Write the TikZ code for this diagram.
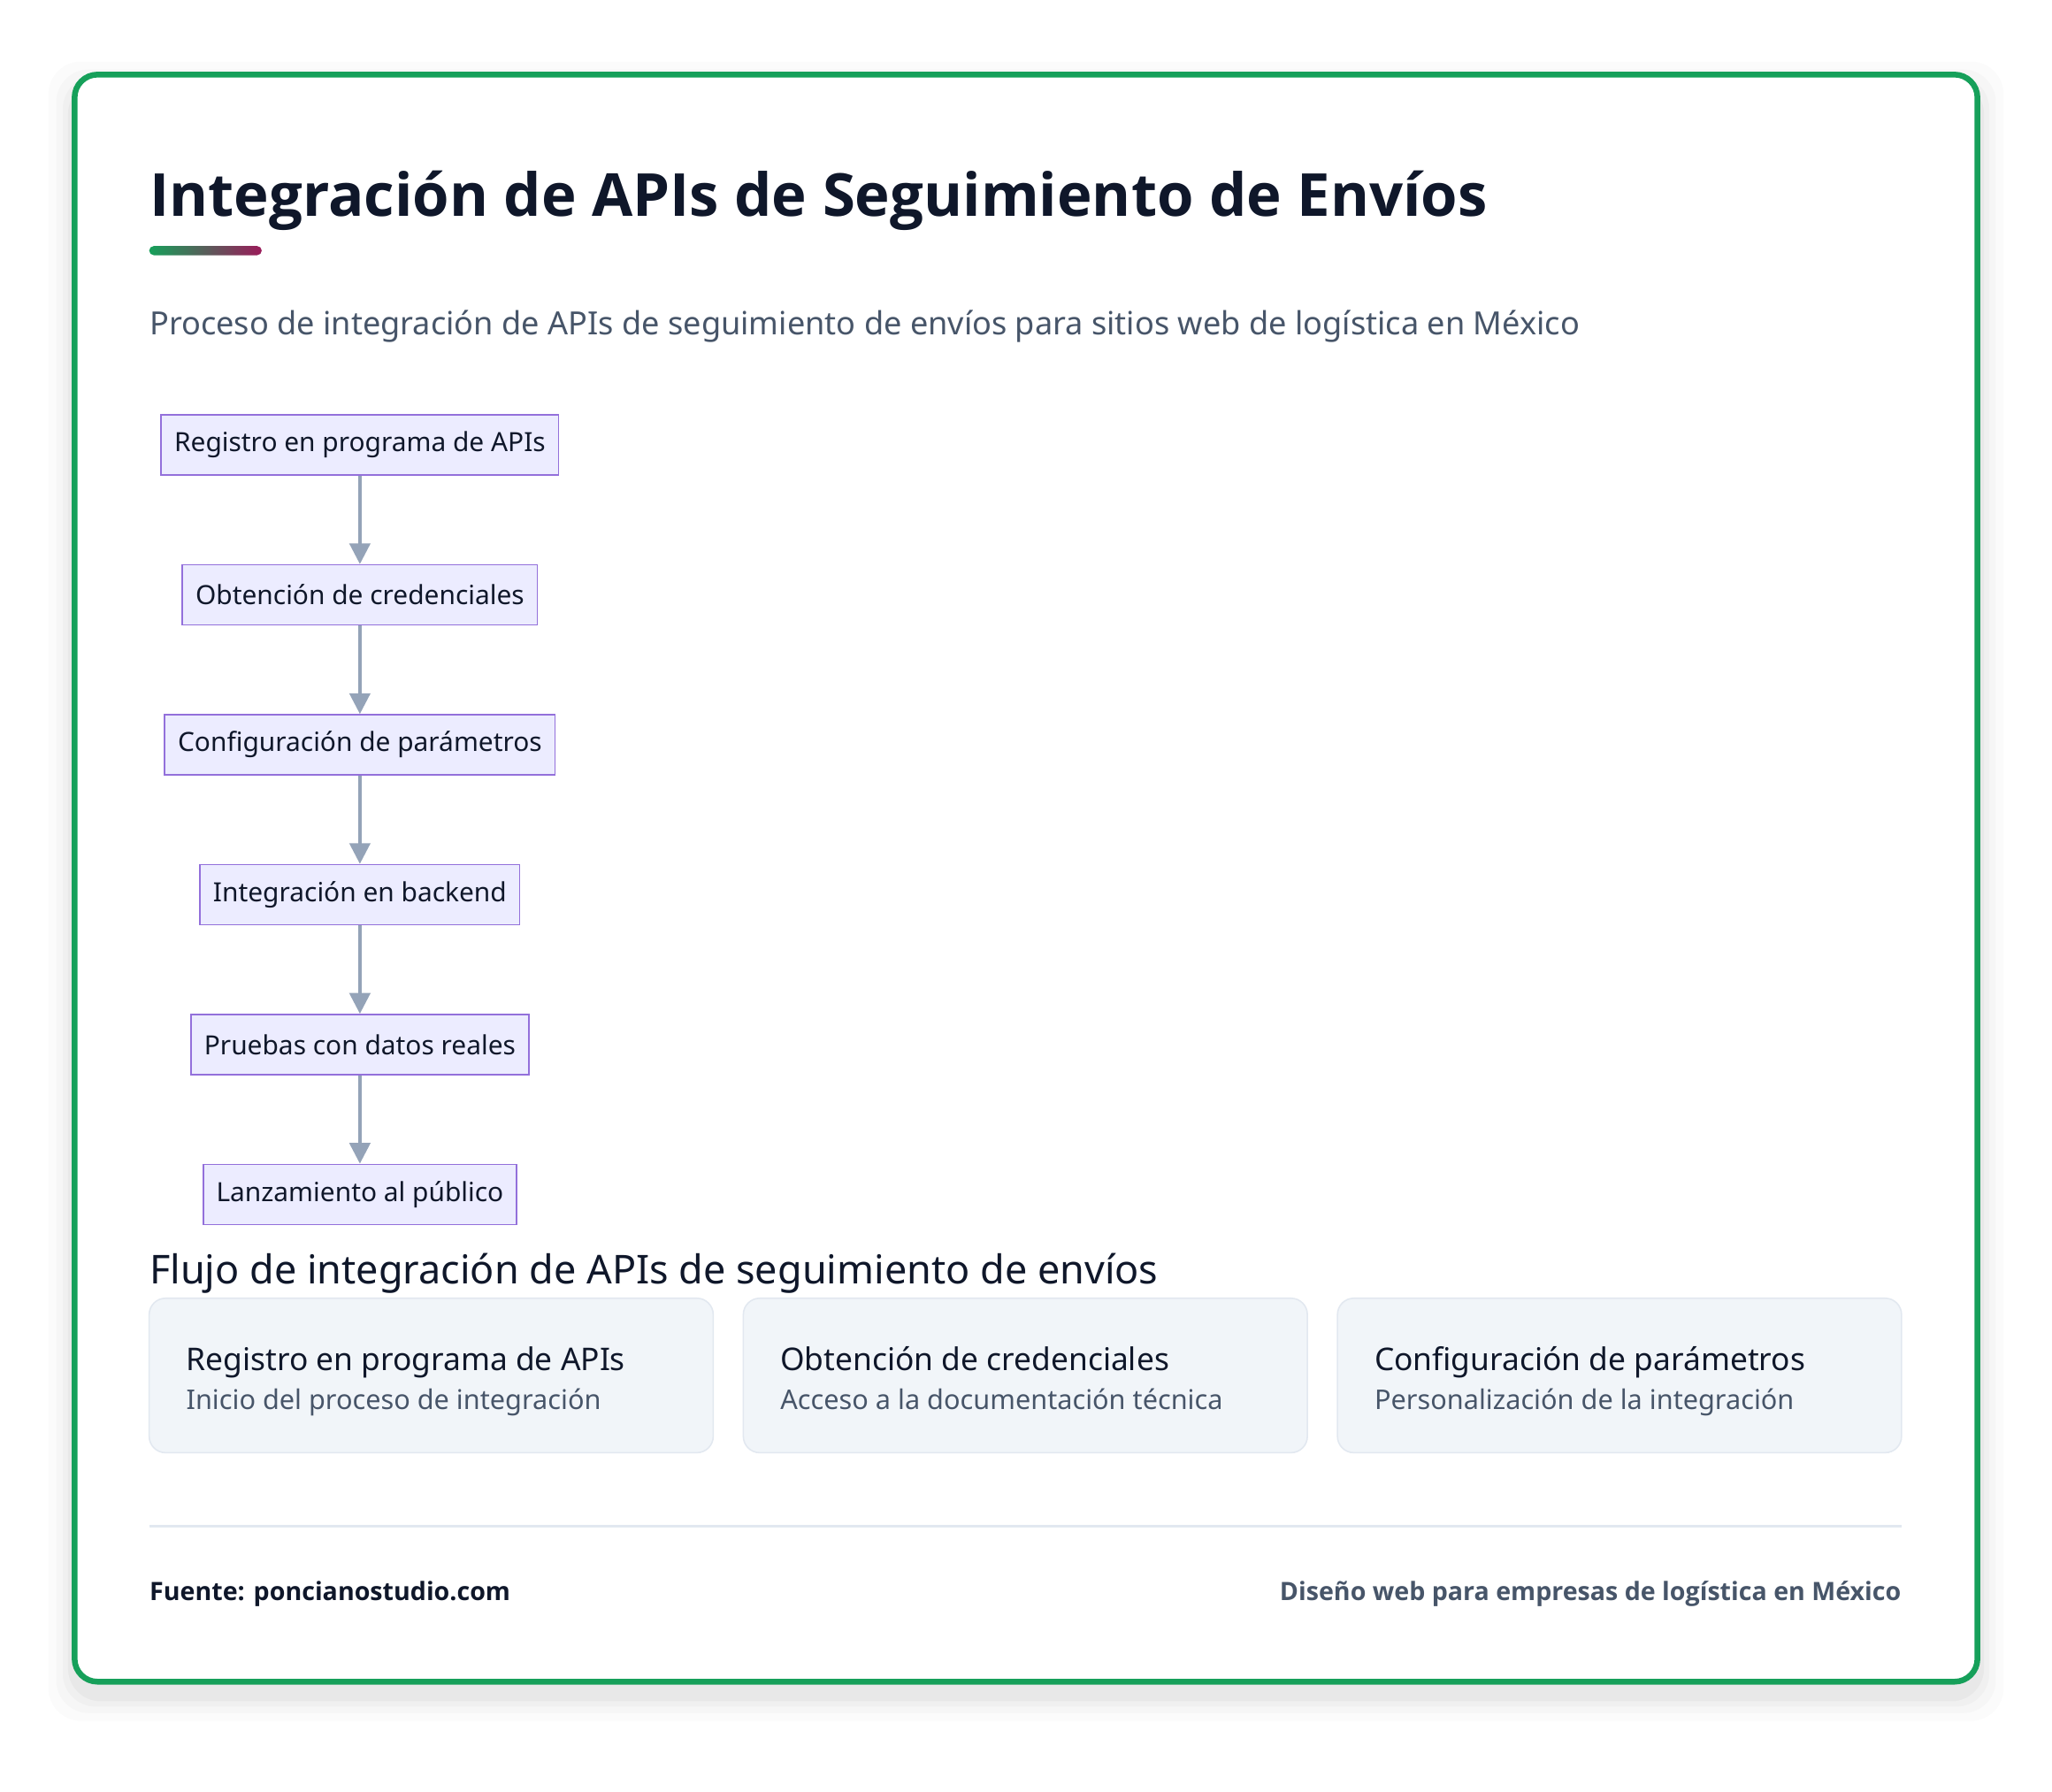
\documentclass[tikz,border=0pt]{standalone}
\usepackage{fontspec}
\setmainfont{Noto Sans}
\newfontfamily\heavy{Open Sans}
\usetikzlibrary{positioning,arrows.meta,shadings}
\definecolor{frameG}{HTML}{16A05A}
\definecolor{ink}{HTML}{0F172A}
\definecolor{slate}{HTML}{475569}
\definecolor{boxF}{HTML}{ECECFF}
\definecolor{boxD}{HTML}{9370DB}
\definecolor{arrowC}{HTML}{94A3B8}
\definecolor{cardF}{HTML}{F1F5F9}
\definecolor{cardD}{HTML}{E2E8F0}
\definecolor{crimson}{HTML}{9B1B5A}
\tikzset{
  stage/.style={draw=boxD,fill=boxF,line width=0.6pt,minimum height=0.92cm,inner xsep=0.2cm,
    font=\fontsize{11.5}{13}\selectfont,text=ink},
  flow/.style={-{Triangle[length=9pt,width=9pt]},draw=arrowC,line width=1.3pt},
  card/.style={draw=cardD,fill=cardF,line width=0.6pt,rounded corners=0.25cm}
}
\begin{document}
\begin{tikzpicture}[x=0.02cm,y=-0.02cm]
\useasboundingbox[fill=white] (0,0) rectangle (1568,1369);
% shadow and frame
\foreach \s/\o in {20/0.015,14/0.02,9/0.025,5/0.03}
  \fill[black,opacity=\o,rounded corners=0.5cm] (57-\s,57-\s+10) rectangle (1511+\s,1285+\s+10);
\draw[frameG,line width=2.5pt,fill=white!97!cardF,rounded corners=0.35cm] (57,57) rectangle (1511,1285);
% title
\node[anchor=base west,inner sep=0,text=ink,font=\fontsize{25.8}{30}\heavy\bfseries] (title) at (114,165)
  {Integración de APIs de Seguimiento de Envíos};
\shade[left color=frameG,right color=crimson,rounded corners=2pt] (114,188) rectangle (200,195);
\node[anchor=base west,inner sep=0,text=slate,font=\fontsize{13.9}{16}\selectfont] (sub) at (114,256)
  {Proceso de integración de APIs de seguimiento de envíos para sitios web de logística en México};
% flow chart
\node[stage] (s1) at (275,340) {Registro en programa de APIs};
\node[stage,below=1.35cm of s1] (s2) {Obtención de credenciales};
\node[stage,below=1.35cm of s2] (s3) {Configuración de parámetros};
\node[stage,below=1.35cm of s3] (s4) {Integración en backend};
\node[stage,below=1.35cm of s4] (s5) {Pruebas con datos reales};
\node[stage,below=1.35cm of s5] (s6) {Lanzamiento al público};
\foreach \a/\b in {s1/s2,s2/s3,s3/s4,s4/s5,s5/s6}
  \draw[flow] (\a) -- (\b);
% cards
\node[anchor=base west,inner sep=0,text=ink,font=\fontsize{17.3}{20}\selectfont] (head) at (114,981)
  {Flujo de integración de APIs de seguimiento de envíos};
\foreach \x/\t/\d [count=\i] in {114/Registro en programa de APIs/Inicio del proceso de integración,
  568/Obtención de credenciales/Acceso a la documentación técnica,
  1022/Configuración de parámetros/Personalización de la integración}{
  \draw[card] (\x,992) rectangle (\x+431,1110);
  \node[anchor=base west,inner sep=0,text=ink,font=\fontsize{13.6}{16}\selectfont] (c\i) at (\x+28,1047) {\t};
  \node[anchor=base west,inner sep=0,text=slate,font=\fontsize{11.8}{14}\selectfont] (d\i) at (\x+28,1077) {\d};
}
% footer
\draw[cardD,line width=1.2pt] (114,1166) -- (1453,1166);
\node[anchor=base west,inner sep=0,text=ink,font=\fontsize{11}{14}\heavy\bfseries] (src) at (114,1223)
  {Fuente: poncianostudio.com};
\node[anchor=base east,inner sep=0,text=slate,font=\fontsize{11}{14}\heavy\bfseries] (tag) at (1453,1223)
  {Diseño web para empresas de logística en México};
\end{tikzpicture}
\end{document}
